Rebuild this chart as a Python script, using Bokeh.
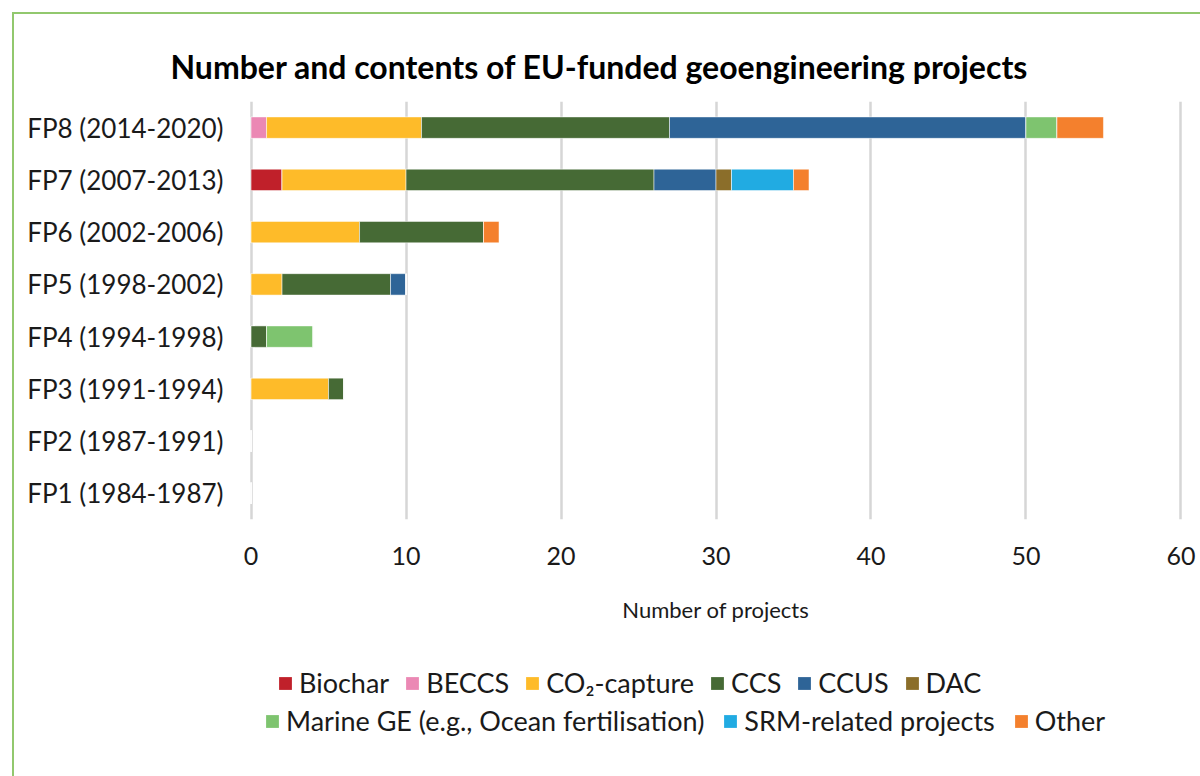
from bokeh.plotting import figure
from bokeh.layouts import column
from bokeh.models import (FactorRange, Range1d, FixedTicker, Legend, LegendItem,
                          ColumnDataSource, Title)
from bokeh.embed import file_html
from bokeh.resources import INLINE

# ---- data (bottom to top) ----
periods = ["FP1 (1984-1987)", "FP2 (1987-1991)", "FP3 (1991-1994)", "FP4 (1994-1998)",
           "FP5 (1998-2002)", "FP6 (2002-2006)", "FP7 (2007-2013)", "FP8 (2014-2020)"]
biochar     = [0, 0, 0, 0, 0, 0, 2, 0]
beccs       = [0, 0, 0, 0, 0, 0, 0, 1]
co2_capture = [0, 0, 5, 0, 2, 7, 8, 10]
ccs         = [0, 0, 1, 1, 7, 8, 16, 16]
ccus        = [0, 0, 0, 0, 1, 0, 4, 23]
dac         = [0, 0, 0, 0, 0, 0, 1, 0]
marine_ge   = [0, 0, 0, 3, 0, 0, 0, 2]
srm         = [0, 0, 0, 0, 0, 0, 4, 0]
other       = [0, 0, 0, 0, 0, 1, 1, 3]

series_keys = ["biochar", "beccs", "co2", "ccs", "ccus", "dac", "marine", "srm", "other"]
series_labels = ["Biochar", "BECCS", "CO\u2082-capture", "CCS", "CCUS", "DAC",
                 "Marine GE (e.g., Ocean fertilisation)", "SRM-related projects", "Other"]
colors = ["#C0202A", "#EB88B4", "#FEBB29", "#466A35", "#2E6497", "#8B6E2A",
          "#7EC46F", "#21ABE2", "#F4802D"]
x_ticks = [0, 10, 20, 30, 40, 50, 60]

source = ColumnDataSource(dict(period=periods, biochar=biochar, beccs=beccs, co2=co2_capture,
                               ccs=ccs, ccus=ccus, dac=dac, marine=marine_ge, srm=srm,
                               other=other))

FONT = "Lato"
TXT = "#1a1a1a"
W = 1186

p = figure(width=W, height=636, output_backend="svg", toolbar_location=None,
           y_range=FactorRange(factors=periods, range_padding=0),
           x_range=Range1d(-0.1, 60.1),
           min_border_left=235, min_border_right=18, min_border_top=87, min_border_bottom=131)

renderers = p.hbar_stack(series_keys, y="period", height=0.41, color=colors, source=source,
                         line_color="white", line_alpha=0.5, line_width=1)

p.title = Title(text="Number and contents of EU-funded geoengineering projects",
                text_font=FONT, text_font_size="32px", text_font_style="bold",
                text_color="#000000", align="left", offset=-79, standoff=30,
                vertical_align="middle")

p.outline_line_color = None
p.background_fill_color = "white"
p.border_fill_color = "white"

p.ygrid.grid_line_color = None
p.xgrid.grid_line_color = "#D6D6D6"
p.xgrid.grid_line_width = 2.5
p.xaxis.ticker = FixedTicker(ticks=x_ticks)

p.xaxis.axis_line_color = None
p.xaxis.major_tick_line_color = None
p.xaxis.minor_tick_line_color = None
p.xaxis.major_tick_out = 0
p.xaxis.major_label_text_font = FONT
p.xaxis.major_label_text_font_size = "25px"
p.xaxis.major_label_text_color = TXT
p.xaxis.major_label_standoff = 27
p.xaxis.axis_label = "Number of projects"
p.xaxis.axis_label_text_font = FONT
p.xaxis.axis_label_text_font_size = "22px"
p.xaxis.axis_label_text_font_style = "normal"
p.xaxis.axis_label_text_color = TXT
p.xaxis.axis_label_standoff = 28

p.yaxis.axis_line_color = None
p.yaxis.major_tick_line_color = None
p.yaxis.minor_tick_line_color = None
p.yaxis.major_tick_out = 0
p.yaxis.major_label_text_font = FONT
p.yaxis.major_label_text_font_size = "26px"
p.yaxis.major_label_text_color = TXT
p.yaxis.major_label_standoff = 26

# ---- legend figure: same series, hidden renderers, only their legend swatches show ----
lg = figure(width=W, height=126, output_backend="svg", toolbar_location=None,
            x_range=Range1d(-0.1, 60.1), y_range=FactorRange(factors=periods, range_padding=0),
            x_axis_location=None, y_axis_location=None, min_border=0)
lg.outline_line_color = None
lg.xgrid.grid_line_color = None
lg.ygrid.grid_line_color = None
lg.border_fill_color = "white"
lg.background_fill_color = "white"
swatches = lg.hbar_stack(series_keys, y="period", height=0.41, color=colors, source=source,
                         line_color=None, visible=False)

def make_legend(idxs, loc, spacing):
    return Legend(items=[LegendItem(label=series_labels[i], renderers=[swatches[i]]) for i in idxs],
                  orientation="horizontal", location=loc,
                  label_text_font=FONT, label_text_font_size="27px", label_text_color=TXT,
                  glyph_width=16, glyph_height=16, label_standoff=6, spacing=spacing,
                  padding=0, margin=0, border_line_color=None, background_fill_alpha=0,
                  inactive_fill_alpha=0, click_policy="none")

# frame of the legend figure is aligned with the chart frame (starts at x = 249)
lg.add_layout(make_legend([0, 1, 2, 3, 4, 5], (28, 77), 15))
lg.add_layout(make_legend([6, 7, 8], (15, 39), 18))

layout = column(p, lg, spacing=0, margin=(12, 0, 0, 12),
                styles={"border-top": "2px solid #92C86E", "border-left": "2px solid #92C86E"})

open("out.html", "w").write(file_html(layout, INLINE))
